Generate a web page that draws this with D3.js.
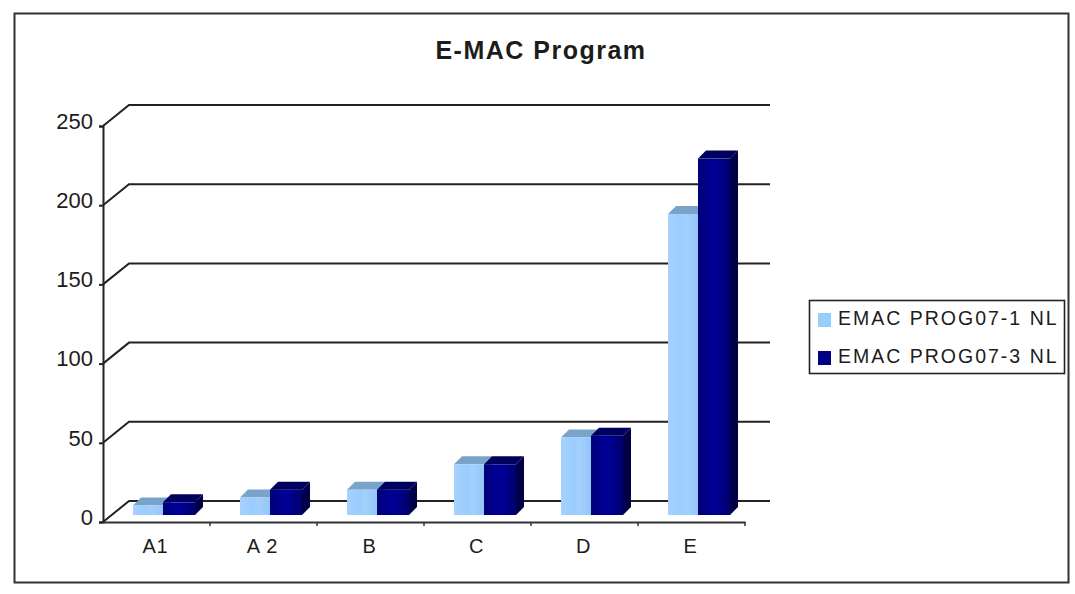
<!DOCTYPE html>
<html>
<head>
<meta charset="utf-8">
<script src="https://cdn.jsdelivr.net/npm/d3@7/dist/d3.min.js"></script>
<style>
html,body{margin:0;padding:0;background:#fff}
svg{display:block}
text{font-family:"Liberation Sans",Arial,sans-serif;fill:#1c1c1c}
</style>
</head>
<body>
<svg id="chart" width="1075" height="594"></svg>
<script>
const categories = ["A1", "A 2", "B", "C", "D", "E"];
const seriesNames = ["EMAC PROG07-1 NL", "EMAC PROG07-3 NL"];
const prog1 = [6, 11, 16, 32, 49, 190];
const prog3 = [8, 16, 16, 32, 50, 225];
const yTicks = [0, 50, 100, 150, 200, 250];

const svg = d3.select("#chart");

// Gradients give the front faces their soft cylinder-like shading.
const defs = svg.append("defs");
function faceGradient(id, stops) {
  const g = defs.append("linearGradient").attr("id", id);
  stops.forEach(([o, c]) => g.append("stop").attr("offset", o).attr("stop-color", c));
}
faceGradient("lightFace", [[0, "#a6d2ff"], [0.45, "#99ccff"], [0.6, "#a3d0fb"], [1, "#93c6fb"]]);
faceGradient("darkFace", [[0, "#000078"], [0.5, "#00009a"], [1, "#00006e"]]);

// Outer frame
svg.append("rect").attr("x", 14.5).attr("y", 13.5).attr("width", 1054).attr("height", 569)
  .attr("fill", "#fff").attr("stroke", "#333").attr("stroke-width", 2);

svg.append("text").attr("x", 541).attr("y", 59).attr("text-anchor", "middle")
  .attr("font-size", 25).attr("font-weight", "bold").attr("letter-spacing", 1.5)
  .text("E-MAC Program");

// Scales: front plane of the axes, with a fixed oblique depth to the back wall
const x = d3.scaleBand().domain(categories).range([103, 745]);
const y = d3.scaleLinear().domain([0, 250]).range([522, 126]);
const wallDx = 26, wallDy = -21;
const barBase = -7, barDepth = 8;
const barInset = 30, lightWidth = 30, darkWidth = 32;

// Back wall gridlines with their oblique stubs down to the axis
const grid = svg.append("g").attr("fill", "none").attr("stroke", "#222").attr("stroke-width", 2);
yTicks.forEach(t => {
  grid.append("path").attr("d", d3.line()([
    [x.range()[0], y(t)],
    [x.range()[0] + wallDx, y(t) + wallDy],
    [770, y(t) + wallDy]
  ]));
});

// Axes
const yAxis = svg.append("g").attr("transform", `translate(${x.range()[0]},0)`)
  .call(d3.axisLeft(y).tickValues(yTicks).tickSize(4).tickPadding(6).tickFormat(d3.format("d")));
yAxis.selectAll("text").attr("font-size", 22).attr("dy", "0.1em").style("font-family", null);
yAxis.selectAll("line, path").attr("stroke", "#222").attr("stroke-width", 2);

const xAxis = svg.append("g").attr("transform", `translate(0,${y(0)})`)
  .call(d3.axisBottom(x).tickValues([]).tickSize(0));
xAxis.select("path").attr("stroke", "#333").attr("stroke-width", 2);
svg.append("g").selectAll("line").data(categories).join("line")
  .attr("x1", d => x(d) + x.step()).attr("x2", d => x(d) + x.step())
  .attr("y1", y(0)).attr("y2", y(0) + 4).attr("stroke", "#333").attr("stroke-width", 1.5);
svg.append("g").selectAll("text").data(categories).join("text")
  .attr("x", d => x(d) + x.step() / 2 - 1).attr("y", 553).attr("text-anchor", "middle")
  .attr("font-size", 20).attr("letter-spacing", 0.8)
  .text(d => d);

// One oblique box: side and top faces first, then the front
function drawBox(g, left, value, w, face, top, side) {
  const base = y(0) + barBase;
  const topY = base - (y(0) - y(value));
  const poly = pts => g.append("polygon").attr("points", pts.map(p => p.join(",")).join(" "));
  poly([[left + w, base], [left + w + barDepth, base - barDepth],
        [left + w + barDepth, topY - barDepth], [left + w, topY]]).attr("fill", side);
  poly([[left, topY], [left + barDepth, topY - barDepth],
        [left + w + barDepth, topY - barDepth], [left + w, topY]]).attr("fill", top);
  g.append("rect").attr("x", left).attr("y", topY).attr("width", w)
    .attr("height", base - topY).attr("fill", face);
}

const bars = svg.append("g");
categories.forEach((c, i) => {
  const left = x(c) + barInset;
  drawBox(bars, left, prog1[i], lightWidth, "url(#lightFace)", "#7aa3c9", "#6f9bc4");
  drawBox(bars, left + lightWidth, prog3[i], darkWidth, "url(#darkFace)", "#00005e", "#000048");
});

// Legend
const legend = svg.append("g");
legend.append("rect").attr("x", 809.5).attr("y", 300.5).attr("width", 255).attr("height", 73)
  .attr("fill", "#fff").attr("stroke", "#222").attr("stroke-width", 1.6);
const swatchColors = ["#99ccff", "#000080"];
seriesNames.forEach((name, i) => {
  legend.append("rect").attr("x", 818).attr("y", 313 + i * 38).attr("width", 13).attr("height", 14)
    .attr("fill", swatchColors[i]);
  legend.append("text").attr("x", 838).attr("y", 325 + i * 38)
    .attr("font-size", 19.5).attr("letter-spacing", 2).text(name);
});
</script>
</body>
</html>
